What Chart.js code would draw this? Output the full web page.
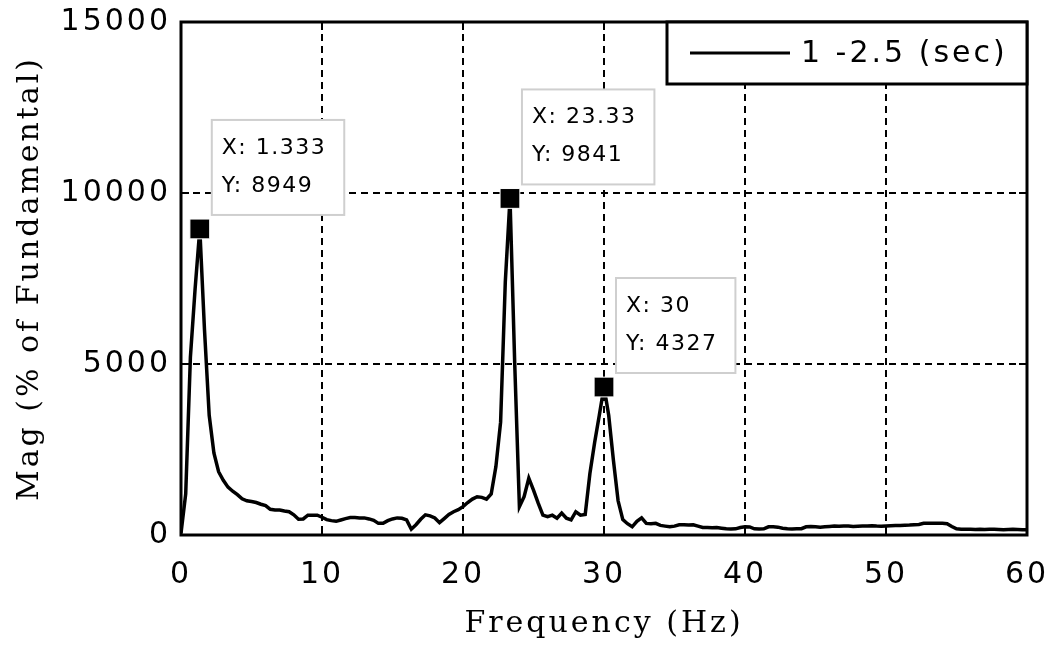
<!DOCTYPE html>
<html>
<head>
<meta charset="utf-8">
<script src="https://cdn.jsdelivr.net/npm/chart.js@4.4.1/dist/chart.umd.min.js"></script>
<style>
  html, body { margin: 0; padding: 0; background: #fff; }
  canvas { display: block; }
</style>
</head>
<body>
<canvas id="fft-chart" width="1057" height="645"></canvas>
<script>
// spectrum magnitude, one value every 1/3 Hz from 0 to 60 Hz
const freqStep = 1 / 3;
const magValues = [
    50, 1200, 5200, 7200, 8949, 6000, 3500, 2400, 1850, 1600,
    1400, 1280, 1180, 1060, 1000, 980, 950, 900, 860, 750,
    730, 730, 700, 680, 590, 460, 470, 580, 580, 580,
    520, 450, 420, 400, 440, 480, 510, 510, 500, 500,
    470, 430, 340, 340, 420, 470, 500, 490, 440, 170,
    300, 460, 590, 560, 500, 360, 480, 600, 680, 740,
    830, 950, 1050, 1120, 1100, 1050, 1200, 2000, 3300, 7400,
    9841, 5030, 830, 1120, 1660, 1310, 930, 580, 535, 580,
    490, 640, 490, 440, 680, 580, 600, 1800, 2700, 3500,
    4327, 3500, 2190, 1000, 450, 330, 240, 400, 500, 340,
    330, 340, 280, 260, 240, 260, 300, 300, 290, 300,
    260, 220, 220, 210, 220, 200, 180, 175, 180, 220,
    240, 235, 180, 175, 180, 240, 240, 230, 200, 180,
    175, 180, 185, 240, 245, 240, 230, 240, 250, 260,
    255, 265, 260, 250, 255, 260, 265, 270, 260, 255,
    265, 270, 275, 280, 285, 290, 300, 310, 340, 340,
    345, 340, 340, 330, 250, 180, 170, 165, 170, 160,
    165, 160, 170, 165, 160, 155, 160, 165, 160, 155, 150
];

// data tips
const peakFreqs = [1.333, 23.33, 30];
const peakLabels = ['1.333', '23.33', '30'];
const peakMags = [8949, 9841, 4327];

const xTicks = [0, 10, 20, 30, 40, 50, 60];
const yTicks = [0, 5000, 10000, 15000];
const legendLabel = '1 -2.5 (sec)';

const sansFont = '"DejaVu Sans", sans-serif';
const serifFont = '"DejaVu Serif", serif';

// box, inner ticks, data tips and legend drawn on top of the lines
const matlabFrame = {
    id: 'matlabFrame',
    beforeDraw(chart) {
        chart.ctx.letterSpacing = '3px';
    },
    afterDatasetsDraw(chart) {
        const { ctx, chartArea: a, scales: { x, y } } = chart;
        ctx.save();
        ctx.letterSpacing = '0px';
        ctx.strokeStyle = '#000';
        ctx.lineWidth = 2;

        // ticks pointing inward on all four sides
        ctx.beginPath();
        xTicks.forEach(t => {
            const px = x.getPixelForValue(t);
            ctx.moveTo(px, a.bottom); ctx.lineTo(px, a.bottom - 8);
            ctx.moveTo(px, a.top); ctx.lineTo(px, a.top + 8);
        });
        yTicks.forEach(t => {
            const py = y.getPixelForValue(t);
            ctx.moveTo(a.left, py); ctx.lineTo(a.left + 8, py);
            ctx.moveTo(a.right, py); ctx.lineTo(a.right - 8, py);
        });
        ctx.stroke();

        ctx.lineWidth = 3;
        ctx.strokeRect(a.left, a.top, a.right - a.left, a.bottom - a.top);

        // data tip boxes
        ctx.font = '22px ' + sansFont;
        ctx.letterSpacing = '1.5px';
        ctx.textBaseline = 'middle';
        ctx.textAlign = 'left';
        peakFreqs.forEach((f, i) => {
            const px = x.getPixelForValue(f);
            const py = y.getPixelForValue(peakMags[i]);
            const l1 = 'X: ' + peakLabels[i];
            const l2 = 'Y: ' + peakMags[i];
            const w = Math.max(ctx.measureText(l1).width, ctx.measureText(l2).width) + 28;
            const h = 95;
            const bx = px + 12;
            const by = py - 14 - h;
            ctx.fillStyle = '#fff';
            ctx.fillRect(bx, by, w, h);
            ctx.strokeStyle = '#cfcfcf';
            ctx.lineWidth = 2;
            ctx.strokeRect(bx, by, w, h);
            ctx.fillStyle = '#000';
            ctx.fillText(l1, bx + 10, by + 28);
            ctx.fillText(l2, bx + 10, by + 66);
        });

        // legend box
        const lw = 360, lh = 62;
        const lx = a.right - lw, ly = a.top;
        ctx.fillStyle = '#fff';
        ctx.fillRect(lx, ly, lw, lh);
        ctx.strokeStyle = '#000';
        ctx.lineWidth = 3;
        ctx.strokeRect(lx, ly, lw, lh);
        ctx.beginPath();
        ctx.moveTo(lx + 23, ly + 31);
        ctx.lineTo(lx + 123, ly + 31);
        ctx.stroke();
        ctx.font = '30px ' + sansFont;
        ctx.letterSpacing = '3px';
        ctx.fillStyle = '#000';
        ctx.fillText(legendLabel, lx + 134, ly + 32);

        ctx.restore();
    },
    afterDraw(chart) {
        chart.ctx.letterSpacing = '0px';
    }
};

function initializeChart() {
    const canvas = document.getElementById('fft-chart');
    const ctx = canvas.getContext('2d');

    const spectrum = magValues.map((v, i) => ({ x: i * freqStep, y: v }));
    const peaks = peakFreqs.map((f, i) => ({ x: f, y: peakMags[i] }));

    new Chart(ctx, {
        type: 'line',
        data: {
            datasets: [
                {
                    label: legendLabel,
                    data: spectrum,
                    borderColor: '#000',
                    borderWidth: 3.5,
                    pointRadius: 0,
                    tension: 0,
                    order: 2
                },
                {
                    label: 'tips',
                    data: peaks,
                    showLine: false,
                    pointStyle: 'rect',
                    pointRadius: 14,
                    backgroundColor: '#000',
                    borderColor: '#fff',
                    borderWidth: 1,
                    order: 1
                }
            ]
        },
        options: {
            responsive: false,
            animation: false,
            devicePixelRatio: 1,
            layout: {
                padding: { top: 22, right: 30, left: 0, bottom: 0 }
            },
            scales: {
                x: {
                    type: 'linear',
                    min: 0,
                    max: 60,
                    afterFit: scale => {
                        scale.height = 110;
                        scale.paddingLeft = 0;
                        scale.paddingRight = 0;
                    },
                    afterBuildTicks: scale => { scale.ticks = xTicks.map(v => ({ value: v })); },
                    grid: { color: '#000', lineWidth: 2, drawTicks: false },
                    border: { display: false, dash: [7, 5] },
                    ticks: {
                        color: '#000',
                        padding: 22,
                        maxRotation: 0,
                        callback: v => String(v),
                        font: { family: sansFont, size: 30 }
                    },
                    title: {
                        display: true,
                        text: 'Frequency (Hz)',
                        color: '#000',
                        padding: { top: 0, bottom: 3 },
                        font: { family: serifFont, size: 30 }
                    }
                },
                y: {
                    min: 0,
                    max: 15000,
                    afterFit: scale => {
                        scale.width = 181;
                        scale.paddingTop = 0;
                        scale.paddingBottom = 0;
                    },
                    afterBuildTicks: scale => { scale.ticks = yTicks.map(v => ({ value: v })); },
                    grid: { color: '#000', lineWidth: 2, drawTicks: false },
                    border: { display: false, dash: [7, 5] },
                    ticks: {
                        color: '#000',
                        padding: 10,
                        callback: v => String(v),
                        font: { family: sansFont, size: 30 }
                    },
                    title: {
                        display: true,
                        text: 'Mag (% of Fundamental)',
                        color: '#000',
                        padding: { top: 12, bottom: 0 },
                        font: { family: serifFont, size: 30 }
                    }
                }
            },
            plugins: {
                legend: { display: false },
                tooltip: { enabled: false }
            }
        },
        plugins: [matlabFrame]
    });
}

initializeChart();
</script>
</body>
</html>
